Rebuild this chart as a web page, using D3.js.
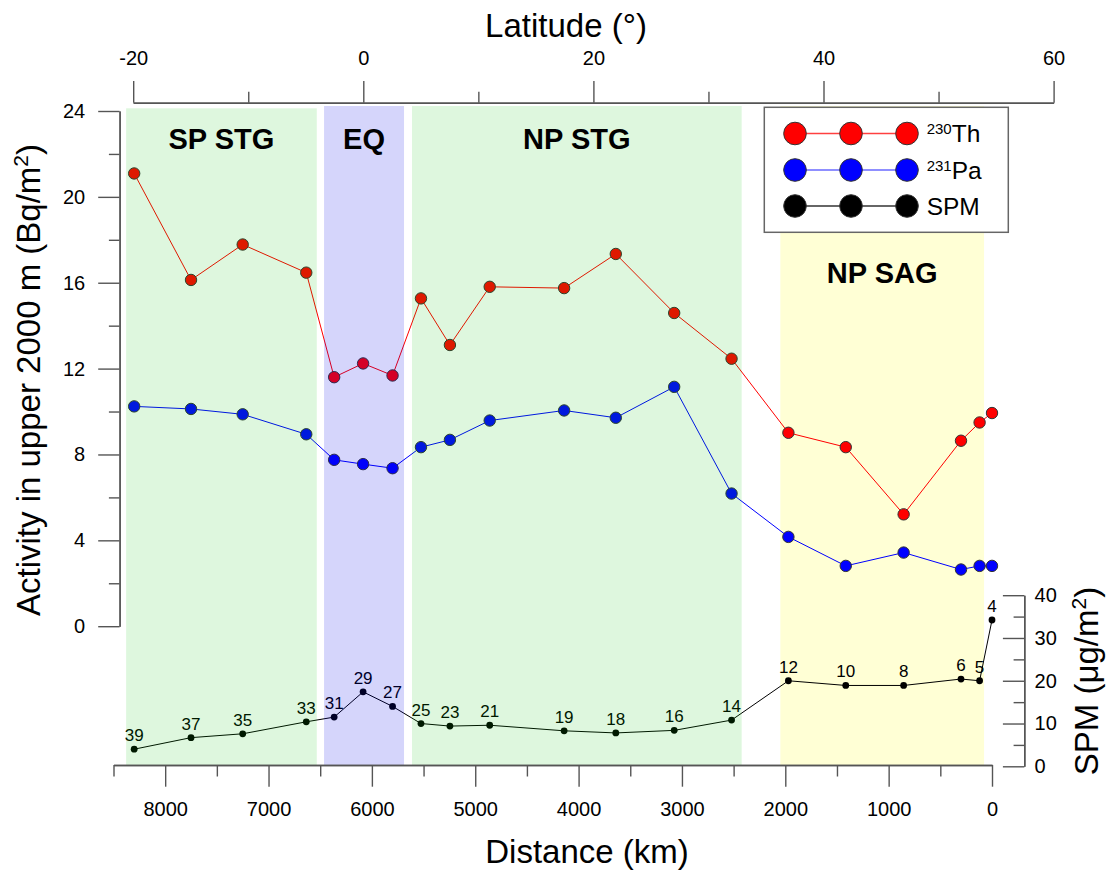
<!DOCTYPE html>
<html>
<head>
<meta charset="utf-8">
<script src="https://cdn.jsdelivr.net/npm/d3@7"></script>
<style>
  html, body { margin: 0; padding: 0; background: #fff; }
  svg { display: block; font-family: "Liberation Sans", Arial, sans-serif; }
</style>
</head>
<body>
<svg id="chart" width="1109" height="871"></svg>
<script>
// Station distances along the section (km) and station numbers
const distanceKm = [8300, 7750, 7250, 6635, 6365, 6085, 5800, 5525, 5245, 4860,
                    4140, 3640, 3075, 2520, 1970, 1415, 855, 300, 120, 0];
const stations   = [39, 37, 35, 33, 31, 29, 27, 25, 23, 21,
                    19, 18, 16, 14, 12, 10, 8, 6, 5, 4];

// Inventories in the upper 2000 m (Bq/m2)
const th230 = [21.09, 16.13, 17.78, 16.47, 11.60, 12.24, 11.68, 15.27, 13.10, 15.81,
               15.75, 17.34, 14.59, 12.46, 9.01, 8.34, 5.21, 8.64, 9.49, 9.93];
const pa231 = [10.24, 10.12, 9.87, 8.94, 7.75, 7.55, 7.36, 8.34, 8.68, 9.58,
               10.05, 9.71, 11.15, 6.18, 4.16, 2.81, 3.43, 2.64, 2.81, 2.81];

// Suspended particulate matter (ug/m2)
const spm = [4.0, 6.7, 7.6, 10.4, 11.5, 17.4, 14.0, 10.0, 9.4, 9.6,
             8.3, 7.8, 8.4, 10.8, 20.0, 18.9, 18.9, 20.4, 20.0, 34.2];

// Oceanographic provinces (distance range, km)
const regionNames = ["SP STG", "EQ", "NP STG", "NP SAG"];
const regionFrom  = [8378, 6463, 5612, 2048];
const regionTo    = [6533, 5689, 2422, 77];

// Axis ticks
const distTicks  = [0, 1000, 2000, 3000, 4000, 5000, 6000, 7000, 8000];
const actTicks   = [0, 4, 8, 12, 16, 20, 24];
const latTicks   = [-20, 0, 20, 40, 60];
const spmTicks   = [0, 10, 20, 30, 40];

const svg = d3.select("#chart");

const x   = d3.scaleLinear().domain([8500, 0]).range([113.5, 992]);
const y   = d3.scaleLinear().domain([0, 24]).range([626.2, 111]);
const ys  = d3.scaleLinear().domain([0, 40]).range([766.3, 595.2]);
const lat = d3.scaleLinear().domain([-20, 60]).range([133.2, 1053.6]);

const baseY = 765;          // bottom axis position
const leftX = 119.6;        // activity axis position
const topY = 102.7;         // latitude axis position
const rightX = 1024.3;      // SPM axis position
const plain = d => String(d);   // keep ASCII hyphen for negatives

const regions = regionNames.map((name, i) => ({ name, from: regionFrom[i], to: regionTo[i] }));
const regionStyle = {
  "SP STG": { fill: "#00c000", opacity: 0.13, top: 108.3, over: true, labelY: 149.3 },
  "EQ":     { fill: "#0000e6", opacity: 0.165, top: 106, over: true, labelY: 149.3 },
  "NP STG": { fill: "#00c000", opacity: 0.13, top: 106, over: true, labelY: 149.3 },
  "NP SAG": { fill: "#ffffd5", opacity: 1, top: 106, over: false, labelY: 283.3 }
};

function drawRegions(layer, over) {
  layer.selectAll("rect")
    .data(regions.filter(r => regionStyle[r.name].over === over))
    .join("rect")
    .attr("x", d => x(d.from))
    .attr("y", d => regionStyle[d.name].top)
    .attr("width", d => x(d.to) - x(d.from))
    .attr("height", d => baseY - regionStyle[d.name].top)
    .attr("fill", d => regionStyle[d.name].fill)
    .attr("fill-opacity", d => regionStyle[d.name].opacity);
}

// background band(s)
drawRegions(svg.append("g"), false);

// data series
const rows = distanceKm.map((d, i) => ({ d, th: th230[i], pa: pa231[i], spm: spm[i], st: stations[i] }));

function series(key, scale, color, r, stroke) {
  const g = svg.append("g");
  g.append("path")
    .datum(rows)
    .attr("fill", "none")
    .attr("stroke", color)
    .attr("stroke-width", 1)
    .attr("d", d3.line().x(p => x(p.d)).y(p => scale(p[key])));
  g.selectAll("circle")
    .data(rows)
    .join("circle")
    .attr("cx", p => x(p.d))
    .attr("cy", p => scale(p[key]))
    .attr("r", r)
    .attr("fill", key === "spm" ? "#000" : color)
    .attr("stroke", stroke)
    .attr("stroke-width", 1);
  return g;
}

series("pa", y, "#0000ff", 5.7, "#333");
series("th", y, "#ff0000", 5.7, "#333");
const spmG = series("spm", ys, "#000", 3.4, "none");
spmG.selectAll("text.st")
  .data(rows)
  .join("text")
  .attr("class", "st")
  .attr("x", p => x(p.d))
  .attr("y", p => ys(p.spm) - 8)
  .attr("text-anchor", "middle")
  .attr("font-size", 17)
  .attr("fill", "#000")
  .text(p => p.st);

// translucent province shading over the data
drawRegions(svg.append("g"), true);

// province labels
svg.append("g").selectAll("text")
  .data(regions)
  .join("text")
  .attr("x", d => (x(d.from) + x(d.to)) / 2)
  .attr("y", d => regionStyle[d.name].labelY)
  .attr("text-anchor", "middle")
  .attr("font-size", 29)
  .attr("font-weight", "bold")
  .attr("fill", "#000")
  .text(d => d.name);

// legend
const leg = svg.append("g");
leg.append("rect")
  .attr("x", 764.3).attr("y", 107.3)
  .attr("width", 244).attr("height", 125)
  .attr("fill", "#fff").attr("stroke", "#666").attr("stroke-width", 1.5);
const legItems = [
  { color: "#ff0000", lineColor: "#ff4040", sup: "230", label: "Th", cy: 133.5 },
  { color: "#0000ff", lineColor: "#6a6aff", sup: "231", label: "Pa", cy: 170 },
  { color: "#000000", lineColor: "#333333", sup: "", label: "SPM", cy: 206 }
];
const legX = [795, 851, 907];
legItems.forEach(it => {
  leg.append("line")
    .attr("x1", legX[0]).attr("x2", legX[2])
    .attr("y1", it.cy).attr("y2", it.cy)
    .attr("stroke", it.lineColor).attr("stroke-width", 1.5);
  legX.forEach(cx => {
    leg.append("circle")
      .attr("cx", cx).attr("cy", it.cy).attr("r", 11.3)
      .attr("fill", it.color).attr("stroke", "#333").attr("stroke-width", 1);
  });
  const t = leg.append("text")
    .attr("x", 926.7).attr("y", it.cy + 8.6)
    .attr("font-size", 24.5).attr("fill", "#000");
  if (it.sup) {
    t.append("tspan").attr("font-size", 15).attr("dy", -8).text(it.sup);
    t.append("tspan").attr("dy", 8).text(it.label);
  } else {
    t.text(it.label);
  }
});

// axes
function styleAxis(g) {
  g.selectAll("path.domain").attr("stroke", "#555").attr("stroke-width", 1.4);
  g.selectAll(".tick line").attr("stroke", "#555").attr("stroke-width", 1.4);
  g.selectAll(".tick text").attr("fill", "#000").attr("font-size", 20)
    .attr("font-family", "Liberation Sans, Arial, sans-serif");
}

// bottom: distance
const minorDist = d3.range(500, 8501, 1000);
svg.append("g").attr("transform", `translate(0,${baseY})`)
  .call(d3.axisBottom(x).tickValues(minorDist).tickSize(11.5).tickSizeOuter(0).tickFormat(""))
  .call(styleAxis);
svg.append("g").attr("transform", `translate(0,${baseY})`)
  .call(d3.axisBottom(x).tickValues(distTicks).tickSize(21.7).tickSizeOuter(0).tickPadding(15).tickFormat(plain))
  .call(styleAxis);

// left: activity
svg.append("g").attr("transform", `translate(${leftX},0)`)
  .call(d3.axisLeft(y).tickValues([2, 6, 10, 14, 18, 22]).tickSize(10.7).tickSizeOuter(0).tickFormat(""))
  .call(styleAxis);
svg.append("g").attr("transform", `translate(${leftX},0)`)
  .call(d3.axisLeft(y).tickValues(actTicks).tickSize(21.4).tickSizeOuter(0).tickPadding(13).tickFormat(plain))
  .call(styleAxis);

// top: latitude
svg.append("g").attr("transform", `translate(0,${topY})`)
  .call(d3.axisTop(lat).tickValues([-10, 10, 30, 50]).tickSize(11).tickSizeOuter(0).tickFormat(""))
  .call(styleAxis);
svg.append("g").attr("transform", `translate(0,${topY})`)
  .call(d3.axisTop(lat).tickValues(latTicks).tickSize(21.7).tickSizeOuter(0).tickPadding(16).tickFormat(plain))
  .call(styleAxis);

// right: SPM (ticks point inward, labels outside)
svg.append("g").attr("transform", `translate(${rightX},0)`)
  .call(d3.axisRight(ys).tickValues([5, 15, 25, 35]).tickSize(-10.7).tickSizeOuter(0).tickFormat(""))
  .call(styleAxis);
svg.append("g").attr("transform", `translate(${rightX},0)`)
  .call(d3.axisRight(ys).tickValues(spmTicks).tickSize(-21.4).tickSizeOuter(0).tickPadding(10.3).tickFormat(plain))
  .call(styleAxis);

// axis titles
svg.append("text")
  .attr("x", 587).attr("y", 862.7)
  .attr("text-anchor", "middle").attr("font-size", 33).attr("fill", "#000")
  .text("Distance (km)");
svg.append("text")
  .attr("x", 566).attr("y", 36.7)
  .attr("text-anchor", "middle").attr("font-size", 33).attr("fill", "#000")
  .text("Latitude (°)");

const yTitle = svg.append("text")
  .attr("transform", "translate(39.5,380) rotate(-90)")
  .attr("text-anchor", "middle").attr("font-size", 33).attr("fill", "#000");
yTitle.append("tspan").text("Activity in upper 2000 m (Bq/m");
yTitle.append("tspan").attr("font-size", 21).attr("dy", -12).text("2");
yTitle.append("tspan").attr("dy", 12).text(")");

const sTitle = svg.append("text")
  .attr("transform", "translate(1098,681) rotate(-90)")
  .attr("text-anchor", "middle").attr("font-size", 33).attr("fill", "#000");
sTitle.append("tspan").text("SPM (μg/m");
sTitle.append("tspan").attr("font-size", 21).attr("dy", -12).text("2");
sTitle.append("tspan").attr("dy", 12).text(")");
</script>
</body>
</html>
